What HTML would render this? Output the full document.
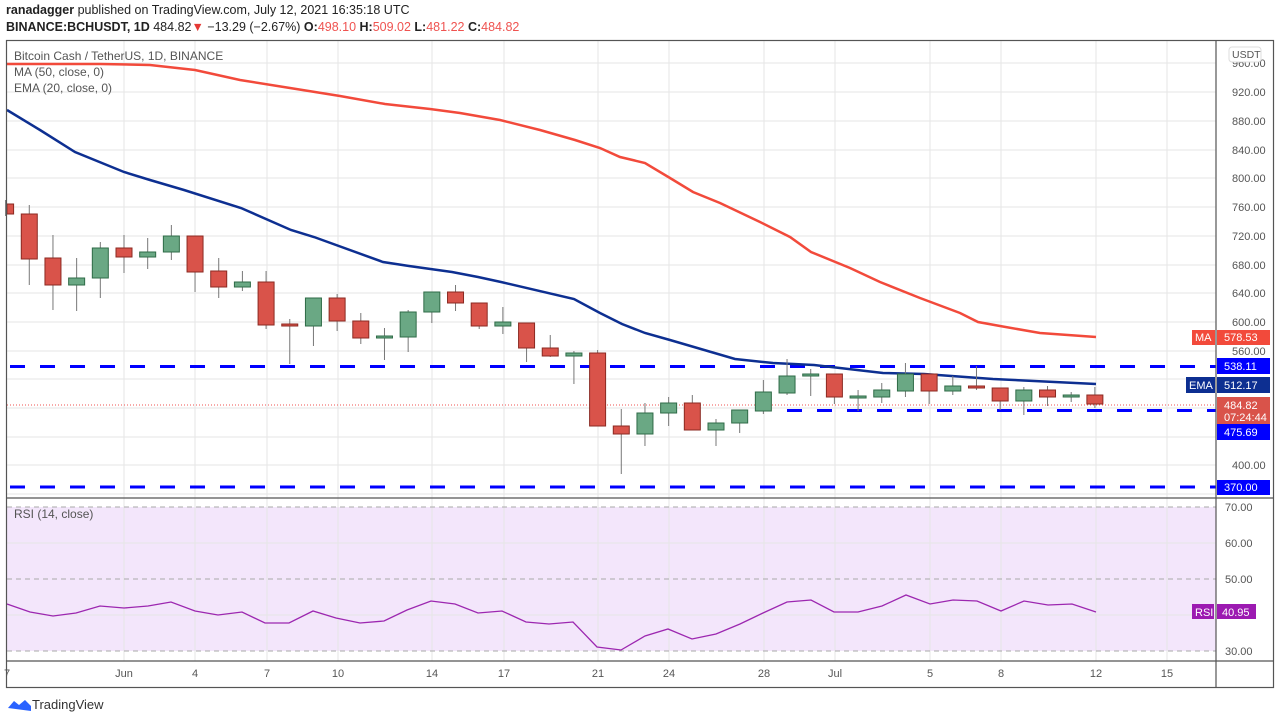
<!DOCTYPE html>
<html><head><meta charset="utf-8"><style>
body{margin:0;background:#fff;width:1280px;height:721px;overflow:hidden;font-family:"Liberation Sans",sans-serif}
svg{position:absolute;left:0;top:0}
</style></head><body>
<svg width="1280" height="721" xmlns="http://www.w3.org/2000/svg" font-family="Liberation Sans, sans-serif">
<text x="6" y="14" font-size="12.5" fill="#222"><tspan font-weight="bold">ranadagger</tspan> published on TradingView.com, July 12, 2021 16:35:18 UTC</text>
<text x="6" y="31" font-size="12.5" fill="#222" font-weight="bold">BINANCE:BCHUSDT, 1D <tspan font-weight="normal">484.82</tspan><tspan fill="#e53935">▼</tspan><tspan font-weight="normal"> −13.29 (−2.67%) </tspan>O:<tspan fill="#ef5350" font-weight="normal">498.10</tspan> H:<tspan fill="#ef5350" font-weight="normal">509.02</tspan> L:<tspan fill="#ef5350" font-weight="normal">481.22</tspan> C:<tspan fill="#ef5350" font-weight="normal">484.82</tspan></text>
<!-- RSI bg -->
<rect x="7" y="507" width="1209" height="144" fill="#f3e6fb"/>
<g stroke="#e6e6e6" stroke-width="1">
<line x1="7" x2="1216" y1="63" y2="63"/><line x1="7" x2="1216" y1="92" y2="92"/><line x1="7" x2="1216" y1="121" y2="121"/><line x1="7" x2="1216" y1="150" y2="150"/><line x1="7" x2="1216" y1="178" y2="178"/><line x1="7" x2="1216" y1="207" y2="207"/><line x1="7" x2="1216" y1="236" y2="236"/><line x1="7" x2="1216" y1="265" y2="265"/><line x1="7" x2="1216" y1="293" y2="293"/><line x1="7" x2="1216" y1="322" y2="322"/><line x1="7" x2="1216" y1="351" y2="351"/><line x1="7" x2="1216" y1="379" y2="379"/><line x1="7" x2="1216" y1="408" y2="408"/><line x1="7" x2="1216" y1="437" y2="437"/><line x1="7" x2="1216" y1="465" y2="465"/><line x1="7" x2="1216" y1="494" y2="494"/>
<line x1="7" x2="1216" y1="543" y2="543"/><line x1="7" x2="1216" y1="615" y2="615"/>
<line x1="124" x2="124" y1="40" y2="661"/><line x1="195" x2="195" y1="40" y2="661"/><line x1="267" x2="267" y1="40" y2="661"/><line x1="338" x2="338" y1="40" y2="661"/><line x1="432" x2="432" y1="40" y2="661"/><line x1="504" x2="504" y1="40" y2="661"/><line x1="598" x2="598" y1="40" y2="661"/><line x1="669" x2="669" y1="40" y2="661"/><line x1="764" x2="764" y1="40" y2="661"/><line x1="835" x2="835" y1="40" y2="661"/><line x1="930" x2="930" y1="40" y2="661"/><line x1="1001" x2="1001" y1="40" y2="661"/><line x1="1096" x2="1096" y1="40" y2="661"/><line x1="1167" x2="1167" y1="40" y2="661"/>
</g>
<g stroke="#aaa" stroke-dasharray="5,4" stroke-width="1"><line x1="7" x2="1216" y1="507" y2="507"/><line x1="7" x2="1216" y1="579" y2="579"/><line x1="7" x2="1216" y1="651" y2="651"/></g>
<!-- dashed levels -->
<g stroke="#0000ff" stroke-width="3" stroke-dasharray="15,15">
<line x1="10" x2="1216" y1="366.5" y2="366.5"/><line x1="787" x2="1216" y1="410.5" y2="410.5"/><line x1="10" x2="1216" y1="487" y2="487"/>
</g>
<line x1="7" x2="1216" y1="405" y2="405" stroke="#ef5350" stroke-dasharray="1,2"/>
<!-- MA -->
<polyline fill="none" stroke="#f24a3b" stroke-width="2.5" points="7,64 100,64 150,65 195,70 240,80 290,88 340,96 385,104 430,109 460,113 500,120 540,130 575,140 600,148 620,157 645,163 670,178 693,192 720,203 760,222 790,237 811,252 850,268 880,282 920,298 960,313 978,322 1000,326 1040,333 1096,337"/>
<!-- EMA -->
<polyline fill="none" stroke="#0d2f91" stroke-width="2.5" points="7,110 40,130 75,152 124,172 150,180 184,190 241,208 291,230 314,237 383,262 409,266 452,272 478,277 501,282 574,299 600,313 622,324 645,333 670,340 735,359 773,363 814,365 883,373 924,374 993,379 1096,384"/>
<!-- candles -->
<g id="c" stroke-width="1"></g>
<!-- RSI -->
<polyline fill="none" stroke="#9c27b0" stroke-width="1.3" points="7,604 30,612 53,616 76,613 100,606 124,608 148,606 171,602 195,611 218,615 242,612 265,623 289,623 313,611 336,618 360,623 384,621 407,610 431,601 455,604 478,613 502,611 526,622 549,624 573,622 597,647 621,650 645,636 668,629 692,639 716,634 740,624 763,613 787,602 811,600 834,612 858,612 882,606 906,595 930,604 953,600 977,601 1001,611 1024,601 1048,605 1072,604 1096,612"/>
<!-- frame -->
<g stroke="#555" fill="none" stroke-width="1.2">
<rect x="6.5" y="40.5" width="1267" height="647"/>
<line x1="1216" x2="1216" y1="40" y2="688"/>
<line x1="6" x2="1274" y1="498" y2="498"/>
<line x1="6" x2="1274" y1="661" y2="661"/>
</g>
<g font-size="11" fill="#555">
<text x="1232" y="96">920.00</text><text x="1232" y="125">880.00</text><text x="1232" y="154">840.00</text><text x="1232" y="182">800.00</text><text x="1232" y="211">760.00</text><text x="1232" y="240">720.00</text><text x="1232" y="269">680.00</text><text x="1232" y="297">640.00</text><text x="1232" y="326">600.00</text><text x="1232" y="355">560.00</text><text x="1232" y="469">400.00</text><text x="1232" y="67">960.00</text>
<text x="1225" y="511">70.00</text><text x="1225" y="547">60.00</text><text x="1225" y="583">50.00</text><text x="1225" y="655">30.00</text>
</g>
<rect x="1229" y="47" width="32" height="15" rx="3" fill="#fff" stroke="#ddd"/><text x="1232" y="58" font-size="10.5" fill="#555">USDT</text>
<g font-size="11" fill="#fff">
<rect x="1192" y="330" width="23" height="15" fill="#f24a3b"/><text x="1195" y="341">MA</text>
<rect x="1217" y="330" width="53" height="15" fill="#f24a3b"/><text x="1224" y="341">578.53</text>
<rect x="1217" y="358" width="53" height="16" fill="#0000ff"/><text x="1224" y="370">538.11</text>
<rect x="1186" y="377" width="29" height="16" fill="#0d2f91"/><text x="1189" y="389">EMA</text>
<rect x="1217" y="377" width="53" height="16" fill="#0d2f91"/><text x="1224" y="389">512.17</text>
<rect x="1217" y="397" width="53" height="28" fill="#d9534a"/><text x="1224" y="409">484.82</text><text x="1224" y="421">07:24:44</text>
<rect x="1217" y="424" width="53" height="16" fill="#0000ff"/><text x="1224" y="436">475.69</text>
<rect x="1217" y="480" width="53" height="15" fill="#0000ff"/><text x="1224" y="491">370.00</text>
<rect x="1192" y="604" width="22" height="15" fill="#9c1ab1"/><text x="1195" y="616">RSI</text>
<rect x="1217" y="604" width="39" height="15" fill="#9c1ab1"/><text x="1222" y="616">40.95</text>
</g>
<g font-size="11" fill="#555" text-anchor="middle">
<text x="7" y="677">7</text><text x="124" y="677">Jun</text><text x="195" y="677">4</text><text x="267" y="677">7</text><text x="338" y="677">10</text><text x="432" y="677">14</text><text x="504" y="677">17</text><text x="598" y="677">21</text><text x="669" y="677">24</text><text x="764" y="677">28</text><text x="835" y="677">Jul</text><text x="930" y="677">5</text><text x="1001" y="677">8</text><text x="1096" y="677">12</text><text x="1167" y="677">15</text>
</g>
<g font-size="12" fill="#555"><text x="14" y="60">Bitcoin Cash / TetherUS, 1D, BINANCE</text><text x="14" y="76">MA (50, close, 0)</text><text x="14" y="92">EMA (20, close, 0)</text><text x="14" y="518">RSI (14, close)</text></g>
<path d="M8,708 l6,-7 l5,4 l6,-5 l6,6 l0,5 z" fill="#2962ff"/>
<text x="32" y="709" font-size="13" fill="#333">TradingView</text>
</svg>
<script>
var d=[[-5,200,204,214,216,'r'],[-4,205,214,259,285,'r'],[-3,235,258,285,310,'r'],[-2,258,278,285,311,'g'],[-1,242,248,278,298,'g'],[0,235,248,257,273,'r'],[1,238,252,257,269,'g'],[2,225,236,252,260,'g'],[3,236,236,272,292,'r'],[4,258,271,287,298,'r'],[5,271,282,287,291,'g'],[6,271,282,325,329,'r'],[7,319,324,326,364,'r'],[8,298,298,326,346,'g'],[9,294,298,321,331,'r'],[10,313,321,338,344,'r'],[11,328,336,338,360,'g'],[12,310,312,337,352,'g'],[13,292,292,312,323,'g'],[14,285,292,303,311,'r'],[15,303,303,326,329,'r'],[16,307,322,326,334,'g'],[17,323,323,348,362,'r'],[18,335,348,356,357,'r'],[19,351,353,356,384,'g'],[20,350,353,426,426,'r'],[21,409,426,434,474,'r'],[22,403,413,434,446,'g'],[23,397,403,413,426,'g'],[24,395,403,430,430,'r'],[25,419,423,430,446,'g'],[26,410,410,423,433,'g'],[27,380,392,411,414,'g'],[28,359,376,393,395,'g'],[29,369,374,376,396,'g'],[30,374,374,397,404,'r'],[31,390,396,397,411,'g'],[32,383,390,397,403,'g'],[33,363,374,391,397,'g'],[34,374,374,391,404,'r'],[35,376,386,391,395,'g'],[36,366,386,387,390,'r'],[37,388,388,401,410,'r'],[38,387,390,401,415,'g'],[39,386,390,397,406,'r'],[40,392,395,397,402,'g'],[41,387,395,404,408,'r']];
var g=document.getElementById('c'),s='';
d.forEach(function(c){var x=124+c[0]*23.68,r=c[5]=='r';var f=r?'#d9534a':'#6aa884',st=r?'#8b2a22':'#2f6b47';
s+='<line x1="'+x+'" x2="'+x+'" y1="'+c[1]+'" y2="'+c[4]+'" stroke="#777"/>';
var h=Math.max(2,c[3]-c[2]);var x0=Math.max(7,x-8);var w=x+8-x0;
s+='<rect x="'+x0+'" y="'+c[2]+'" width="'+w+'" height="'+h+'" fill="'+f+'" stroke="'+st+'"/>';});
g.innerHTML=s;
</script>
</body></html>
